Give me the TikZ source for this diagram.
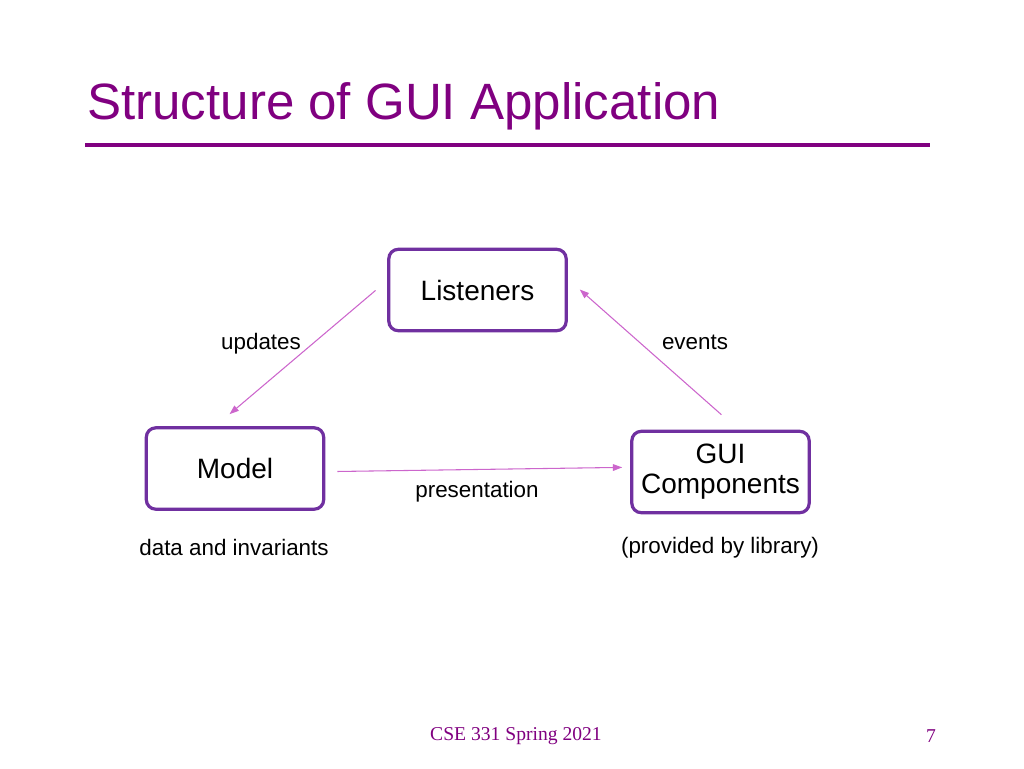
\documentclass[tikz,border=0pt]{standalone}
\usepackage{fontspec}
\setmainfont{Liberation Sans}
\newfontfamily\footfont{Liberation Serif}
\usetikzlibrary{arrows.meta}

\definecolor{slidepurple}{HTML}{800080}
\definecolor{boxpurple}{HTML}{7030A0}
\definecolor{arrowpink}{HTML}{CC66CC}

\tikzset{
	partbox/.style={draw=boxpurple, line width=2.4pt, rounded corners=7pt, fill=white,
		minimum width=133pt, minimum height=61pt, align=center,
		font=\fontsize{21}{22.5}\selectfont},
	flow/.style={draw=arrowpink, line width=0.8pt, -{Triangle[length=7pt,width=5pt]}},
	note/.style={font=\fontsize{16.8}{20}\selectfont}
}

\begin{document}
\begin{tikzpicture}[x=0.75pt,y=-0.75pt]
		\useasboundingbox (0,0) rectangle (1024,768);
		
		%title
		\node[anchor=base west, inner sep=0pt, text=slidepurple, font=\fontsize{38.3}{40}\selectfont] (title) at (87,119) {Structure of GUI Application};
		\draw[slidepurple, line width=3pt] (85,145) -- (930,145);
		
		%boxes
		\node[partbox] (lis) at (477.5,290) {Listeners};
		\node[partbox] (mod) at (235,468.5) {Model};
		\node[partbox] (gui) at (720.5,472) {GUI\\Components};
		
		%arrows
		\draw[flow, shorten <=11.5pt, shorten >=14pt] (lis.174) -- (mod.115);
		\draw[flow, shorten <=17pt, shorten >=12pt] (gui.67) -- (lis.7);
		\draw[flow, shorten <=9pt, shorten >=6pt] (mod.-2) -- (gui.177);
		
		%labels
		\node[note] (upd) at (261,344) {updates};
		\node[note] (evt) at (695,342) {events};
		\node[note] (pres) at (477,492) {presentation};
		\node[note] (data) at (234,547) {data and invariants};
		\node[note] (lib) at (720,548) {(provided by library)};
		
		%footer
		\node[text=slidepurple, font=\footfont\fontsize{14.7}{16}\selectfont] (foot) at (516,736) {CSE 331 Spring 2021};
		\node[text=slidepurple, font=\footfont\fontsize{14.7}{16}\selectfont] (page) at (931,736) {7};
\end{tikzpicture}
\end{document}
